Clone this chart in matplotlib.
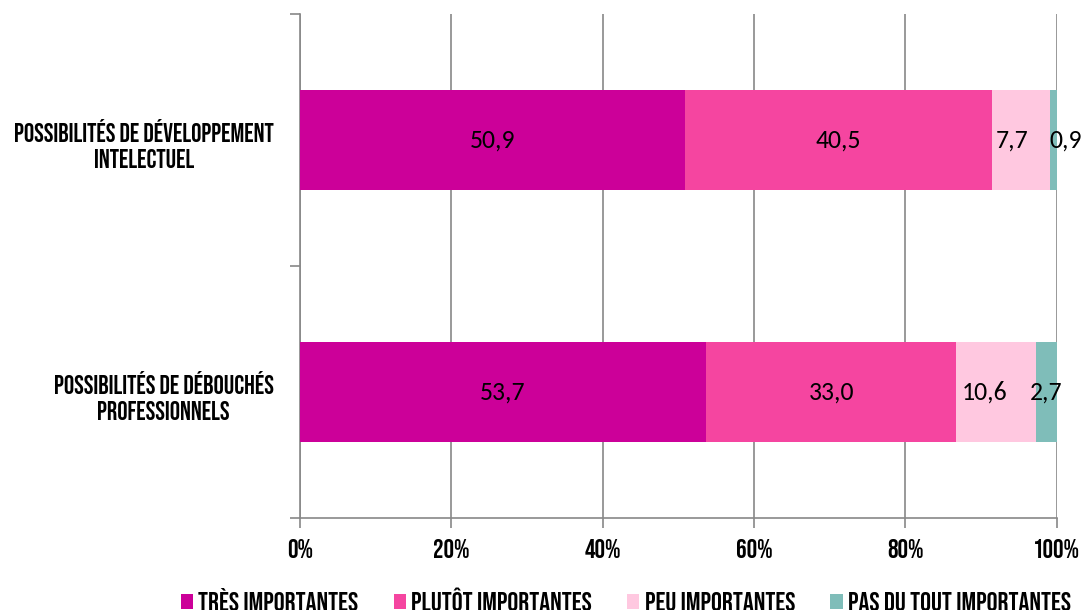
import matplotlib
matplotlib.use('Agg')
import matplotlib.pyplot as plt
from matplotlib.patches import Patch
from matplotlib.transforms import offset_copy
import numpy as np

categories = ['POSSIBILITÉS DE DÉVELOPPEMENT\nINTELECTUEL',
              'POSSIBILITÉS DE DÉBOUCHÉS\nPROFESSIONNELS']
series = ['TRÈS IMPORTANTES', 'PLUTÔT IMPORTANTES', 'PEU IMPORTANTES', 'PAS DU TOUT IMPORTANTES']
values = [[50.9, 53.7],
          [40.5, 33.0],
          [7.7, 10.6],
          [0.9, 2.7]]
labels = [['50,9', '53,7'],
          ['40,5', '33,0'],
          ['7,7', '10,6'],
          ['0,9', '2,7']]
xticks = [0, 20, 40, 60, 80, 100]
xtick_labels = ['0%', '20%', '40%', '60%', '80%', '100%']
colors = ['#CC0099', '#F545A0', '#FFC8E0', '#7FBDB9']

# small nudges (points) so the narrow segments' labels don't collide
nudge = [[0, 0], [0, 0], [-6, -8], [9, 0]]

cap = ['Bebas Neue', 'DejaVu Sans']
num = ['Carlito', 'DejaVu Sans']

fig = plt.figure(figsize=(10.81, 6.10), dpi=100)
ax = fig.add_axes([0.2775, 0.151, 0.700, 0.826])

y = np.arange(len(categories))
left = np.zeros(len(categories))
for i, s in enumerate(series):
    v = np.array(values[i])
    ax.barh(y, v, left=left, height=0.395, color=colors[i], label=s, zorder=3)
    for j in range(len(categories)):
        tr = offset_copy(ax.transData, fig=fig, x=nudge[i][j], y=0, units='points')
        ax.text(left[j] + v[j] / 2, y[j], labels[i][j], ha='center', va='center',
                fontsize=18.5, family=num, color='black', zorder=4, transform=tr)
    left += v

ax.set_xlim(0, 100)
ax.set_ylim(1.5, -0.5)
ax.set_xticks(xticks)
ax.set_xticklabels(xtick_labels, family=cap, fontsize=19)
ax.xaxis.grid(True, color='#888888', linewidth=1.2, zorder=0)
ax.tick_params(axis='x', length=7, color='#888888', width=1.2, pad=8)

ax.set_yticks(y)
ax.set_yticklabels(categories, family=cap, fontsize=18.5, multialignment='center', linespacing=1.35)
ax.set_yticks([-0.5, 0.5, 1.5], minor=True)
ax.tick_params(axis='y', which='major', length=0, pad=19)
ax.tick_params(axis='y', which='minor', length=7, color='#888888', width=1.2)

for side in ['top', 'right']:
    ax.spines[side].set_visible(False)
for side in ['left', 'bottom']:
    ax.spines[side].set_color('#888888')
    ax.spines[side].set_linewidth(1.2)

handles = [Patch(facecolor=c, label=s) for c, s in zip(colors, series)]
fig.legend(handles=handles, loc='center', bbox_to_anchor=(0.579, 0.017), ncol=4, frameon=False,
           prop={'family': cap, 'size': 19.5}, handlelength=0.45, handleheight=0.45,
           handletextpad=0.2, columnspacing=1.3, borderpad=0)

fig.savefig('out.png', dpi=100)
